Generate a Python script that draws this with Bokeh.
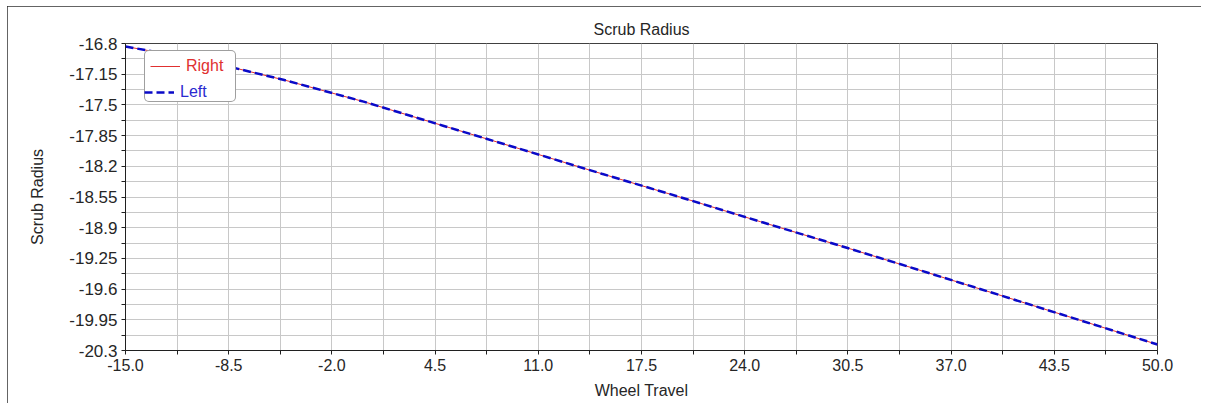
from bokeh.plotting import figure
from bokeh.models import Range1d, FixedTicker, Legend, LegendItem
from bokeh.embed import file_html
from bokeh.resources import INLINE

# ---- data ----
wheel_travel = [-15, -10, -5, 0, 5, 10, 15, 20, 25, 30, 35, 40, 45, 50]
scrub_right = [-16.834, -16.997, -17.216, -17.463, -17.737, -18.010, -18.285,
               -18.555, -18.832, -19.105, -19.383, -19.665, -19.948, -20.232]
scrub_left = [-16.834, -16.997, -17.216, -17.463, -17.737, -18.010, -18.285,
              -18.555, -18.832, -19.105, -19.383, -19.665, -19.948, -20.232]
x_tick_labels = ["-15.0", "-8.5", "-2.0", "4.5", "11.0", "17.5", "24.0",
                 "30.5", "37.0", "43.5", "50.0"]
y_tick_labels = ["-16.8", "-17.15", "-17.5", "-17.85", "-18.2", "-18.55",
                 "-18.9", "-19.25", "-19.6", "-19.95", "-20.3"]

FONT = "Liberation Sans"
TXT = "#262626"


def ticks_and_overrides(labels):
    vals = [float(s) for s in labels]
    ticks = []
    over = {}
    for i, v in enumerate(vals):
        v = round(v, 4)
        ticks.append(v)
        over[v] = labels[i]
        if i + 1 < len(vals):
            m = round((vals[i] + vals[i + 1]) / 2.0, 4)
            ticks.append(m)
            over[m] = ""
    return ticks, over


xt, xo = ticks_and_overrides(x_tick_labels)
yt, yo = ticks_and_overrides(y_tick_labels)

p = figure(frame_width=1032, frame_height=307,
           min_border_left=118, min_border_right=44,
           min_border_top=37, min_border_bottom=53,
           x_range=Range1d(float(x_tick_labels[0]), float(x_tick_labels[-1])),
           y_range=Range1d(float(y_tick_labels[-1]), float(y_tick_labels[0])),
           output_backend="svg", toolbar_location=None,
           background_fill_color="white", border_fill_color="white")
p.margin = (6, 0, 0, 7)
p.styles = {"outline": "1px solid #303030", "outline-offset": "-1px"}

p.title.text = "Scrub Radius"
p.title.align = "center"
p.title.text_font = FONT
p.title.text_font_size = "16px"
p.title.text_font_style = "normal"
p.title.text_color = TXT
p.title.standoff = 12

p.outline_line_color = "#404040"
p.outline_line_width = 1

for ax, t, o in ((p.xaxis[0], xt, xo), (p.yaxis[0], yt, yo)):
    ax.ticker = FixedTicker(ticks=t, minor_ticks=[])
    ax.major_label_overrides = o
    ax.major_label_text_font = FONT
    ax.major_label_text_font_size = "16px"
    ax.major_label_text_color = TXT
    ax.axis_label_text_font = FONT
    ax.axis_label_text_font_size = "16px"
    ax.axis_label_text_font_style = "normal"
    ax.axis_label_text_color = TXT
    ax.axis_line_color = "#202020"
    ax.major_tick_line_color = "#202020"
    ax.major_tick_in = 0
    ax.major_tick_out = 4
    ax.minor_tick_line_color = None

p.yaxis.major_label_text_font_size = "17px"
p.xaxis.axis_label = "Wheel Travel"
p.yaxis.axis_label = "Scrub Radius"
p.xaxis.major_label_standoff = 4
p.xaxis.axis_label_standoff = 8
p.yaxis.major_label_standoff = 4
p.yaxis.axis_label_standoff = 20

p.xgrid.ticker = FixedTicker(ticks=xt)
p.ygrid.ticker = FixedTicker(ticks=yt)
p.grid.grid_line_color = "#c8c8c8"
p.grid.grid_line_width = 1

r_right = p.line(wheel_travel, scrub_right, line_color="#e03030", line_width=1)
r_left = p.line(wheel_travel, scrub_left, line_color="#0a0ac8", line_width=2.5,
                line_dash="8 4")
r_blank = p.line(wheel_travel, scrub_right, line_alpha=0)


def make_legend(items, color, boxed):
    lg = Legend(items=items, location=(19, 248), orientation="vertical",
                padding=5, spacing=0, margin=0,
                label_height=20, glyph_height=20, glyph_width=30,
                label_standoff=6, label_width=44,
                label_text_font=FONT, label_text_font_size="16px",
                label_text_color=color)
    if boxed:
        lg.border_line_color = "#404040"
        lg.border_line_width = 1
        lg.background_fill_color = "white"
        lg.background_fill_alpha = 1.0
        if "border_radius" in Legend.properties():
            lg.border_radius = 5
    else:
        lg.border_line_color = None
        lg.background_fill_alpha = 0.0
    return lg


leg_a = make_legend([LegendItem(label="Right", renderers=[r_right]),
                     LegendItem(label=" ", renderers=[r_blank])], "#e03030", True)
leg_b = make_legend([LegendItem(label=" ", renderers=[r_blank]),
                     LegendItem(label="Left", renderers=[r_left])], "#2a2ad0", False)
p.add_layout(leg_a, "center")
p.add_layout(leg_b, "center")

open("out.html", "w").write(file_html(p, INLINE))
